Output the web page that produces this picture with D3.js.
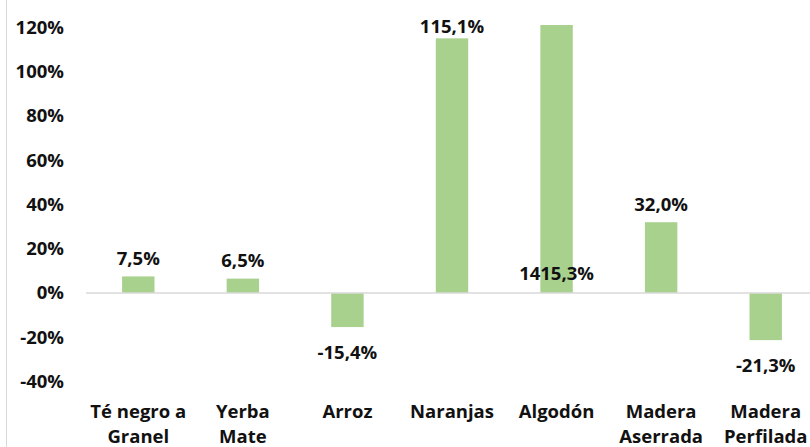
<!DOCTYPE html>
<html>
<head>
<meta charset="utf-8">
<script src="https://cdn.jsdelivr.net/npm/d3@7"></script>
<style>
  body { margin: 0; background: #fff; }
  text { font-family: "Open Sans", sans-serif; font-weight: bold; fill: #111; }
</style>
</head>
<body>
<svg id="chart"></svg>
<script>
const width = 810;
const height = 447;

const categories = [['Té negro a', 'Granel'], ['Yerba', 'Mate'], ['Arroz'], ['Naranjas'], ['Algodón'], ['Madera', 'Aserrada'], ['Madera', 'Perfilada']];
const values = [7.5, 6.5, -15.4, 115.1, 1415.3, 32.0, -21.3];
const labels = ['7,5%', '6,5%', '-15,4%', '115,1%', '1415,3%', '32,0%', '-21,3%'];
const yTicks = [-40, -20, 0, 20, 40, 60, 80, 100, 120];

const svg = d3.select('#chart').attr('width', width).attr('height', height);

const plotTop = 25;
const fontSize = '18.5px';
const x = d3.scaleBand().domain(d3.range(categories.length)).range([86, 818]);
const y = d3.scaleLinear().domain([-40, 120]).range([381.5, 27.5]);
const barW = x.bandwidth() * 0.31;

// left frame edge
svg.append('line')
    .attr('x1', 6.5).attr('x2', 6.5).attr('y1', 0).attr('y2', height)
    .attr('stroke', '#d9d9d9');

// y axis labels
svg.selectAll('.ytick')
    .data(yTicks)
    .enter()
    .append('text')
        .attr('class', 'ytick')
        .attr('x', 64)
        .attr('y', d => y(d))
        .attr('dy', '0.35em')
        .attr('text-anchor', 'end')
        .style('font-size', fontSize)
        .text(d => d + '%');

// bars (clipped to the plot top like the original)
svg.selectAll('rect')
    .data(values)
    .enter()
    .append('rect')
        .attr('x', (d, i) => x(i) + (x.bandwidth() - barW) / 2)
        .attr('y', d => Math.max(plotTop, y(Math.max(d, 0))))
        .attr('width', barW)
        .attr('height', d => Math.abs(Math.max(plotTop, y(Math.max(d, 0))) - y(Math.min(d, 0))))
        .attr('fill', '#a9d18e');

// zero line
svg.append('line')
    .attr('x1', 86).attr('x2', width).attr('y1', y(0)).attr('y2', y(0))
    .attr('stroke', '#d9d9d9').attr('stroke-width', 1.5);

// value labels
svg.selectAll('.vlabel')
    .data(values)
    .enter()
    .append('text')
        .attr('class', 'vlabel')
        .attr('x', (d, i) => x(i) + x.bandwidth() / 2)
        .attr('y', (d, i) => {
            if (d > 120) return y(0) - 19;
            if (d > 100) return y(d) - 12;
            return d >= 0 ? y(d) - 18 : y(d) + 25;
        })
        .attr('dy', '0.35em')
        .attr('text-anchor', 'middle')
        .style('font-size', fontSize)
        .text((d, i) => labels[i]);

// category labels
const cat = svg.selectAll('.cat')
    .data(categories)
    .enter()
    .append('text')
        .attr('class', 'cat')
        .attr('x', (d, i) => x(i) + x.bandwidth() / 2)
        .attr('y', 412)
        .attr('dy', '0.35em')
        .attr('text-anchor', 'middle')
        .style('font-size', fontSize);

cat.selectAll('tspan')
    .data(d => d)
    .enter()
    .append('tspan')
        .attr('x', function() { return d3.select(this.parentNode).attr('x'); })
        .attr('dy', (d, i) => i === 0 ? '0.35em' : 25)
        .text(d => d);
</script>
</body>
</html>
